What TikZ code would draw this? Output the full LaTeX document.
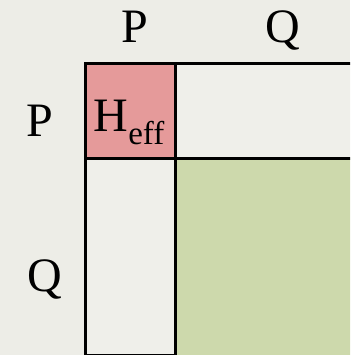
\documentclass[tikz,border=0pt]{standalone}
\usepackage{fontspec}
\setmainfont{Liberation Serif}
\usetikzlibrary{positioning}
\definecolor{bgpaper}{RGB}{237,237,231}
\definecolor{blockwhite}{RGB}{239,239,234}
\definecolor{heffpink}{RGB}{229,154,154}
\definecolor{qqgreen}{RGB}{205,217,172}

\begin{document}
\begin{tikzpicture}[x=1pt,y=-1pt,line width=2.7pt,font=\fontsize{48}{48}\selectfont]
\tikzstyle{blk}=[draw=black,inner sep=0pt,anchor=north west]
\tikzstyle{lbl}=[inner sep=0pt,anchor=base]
\fill[bgpaper] (0,0) rectangle (350,355);
\useasboundingbox (0,0) rectangle (350,355);
\clip (0,0) rectangle (350,355);
% blocks of the matrix
\node[blk,fill=qqgreen,draw=none,minimum width=180pt,minimum height=200pt] (qq) at (174,157) {};
\node[blk,fill=blockwhite,minimum width=190pt,minimum height=95pt] (pq) at (174,62) {};
\node[blk,fill=blockwhite,minimum width=90pt,minimum height=197pt] (qp) at (84,157) {};
\node[blk,fill=heffpink,minimum width=90pt,minimum height=95pt] (pp) at (84,62) {};
\node[lbl] (heff) at (129,132) {H\raisebox{-13pt}{\fontsize{33}{33}\selectfont eff}};
% row and column labels
\node[lbl] (colp) at (134.5,43) {P};
\node[lbl] (colq) at (283,43) {Q};
\node[lbl] (rowp) at (40,137) {P};
\node[lbl] (rowq) at (45,291) {Q};
\end{tikzpicture}
\end{document}
